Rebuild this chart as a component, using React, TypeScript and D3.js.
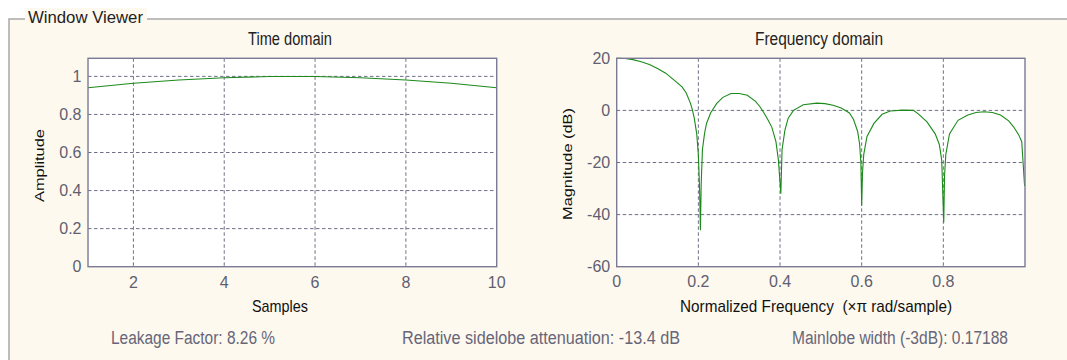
import React from "react";
import * as d3 from "d3";

// Time domain window samples
const samples = [1, 2, 3, 4, 5, 6, 7, 8, 9, 10];
const amplitude = [0.94, 0.964, 0.981, 0.993, 0.999, 0.999, 0.993, 0.981, 0.964, 0.94];

// Frequency domain (normalized frequency, magnitude dB)
const freq = [
  0, 0.02, 0.04, 0.06, 0.08, 0.1, 0.12, 0.14, 0.16, 0.17, 0.18, 0.185, 0.19, 0.196, 0.2, 0.203, 0.205,
  0.207, 0.21, 0.215, 0.22, 0.23, 0.245, 0.26, 0.28, 0.3, 0.32, 0.34, 0.35, 0.36, 0.37, 0.38, 0.39, 0.396, 0.402,
  0.405, 0.412, 0.42, 0.433, 0.457, 0.49, 0.51, 0.53, 0.55, 0.57, 0.58, 0.59, 0.595, 0.598, 0.6,
  0.602, 0.605, 0.613, 0.63, 0.65, 0.67, 0.7, 0.727, 0.74, 0.76, 0.78, 0.79, 0.796, 0.801,
  0.803, 0.806, 0.815, 0.836, 0.86, 0.88, 0.9, 0.92, 0.94, 0.96, 0.972, 0.985, 0.992, 0.999,
];
const magDb = [
  20, 19.9, 19.5, 18.7, 17.6, 16.1, 14.3, 11.7, 9, 6.8, 3, 0.5, -3, -9, -17, -30, -46,
  -28, -15, -9, -5, -1, 2.7, 5, 6.5, 6.5, 5.8, 3.5, 1.6, -0.8, -3.5, -6.5, -12, -19, -32,
  -15, -7.6, -3, 0, 2.2, 2.8, 2.6, 2, 0.9, -1, -3.5, -8, -13, -20, -36.5,
  -24, -17, -10, -5, -1.5, -0.2, 0.1, 0, -1.5, -4.4, -9, -13, -19, -43,
  -25, -17, -9, -3.8, -1.8, -0.8, -0.5, -0.8, -1.8, -4, -6.3, -9.5, -12, -29,
];

const timeXTicks = [2, 4, 6, 8, 10];
const timeYTicks = [0, 0.2, 0.4, 0.6, 0.8, 1];
const freqXTicks = [0, 0.2, 0.4, 0.6, 0.8];
const freqYTicks = [-60, -40, -20, 0, 20];

const FONT = "'Liberation Sans', Arial, sans-serif";
const AXIS = "#7a7a96";
const GRID = "#6f6f88";
const TICKTXT = "#5f5f72";
const LINE = "#1b8a1b";

const top = 58.3;
const bottom = 266.7;

function Label(props: any) {
  const { x, y, len, size, fill, children } = props;
  return (
    <text
      x={x}
      y={y}
      fontSize={size}
      fill={fill}
      fontFamily={FONT}
      textLength={len}
      lengthAdjust="spacingAndGlyphs"
      style={{ whiteSpace: "pre" }}
    >
      {children}
    </text>
  );
}

function Panel(props: any) {
  const { x, y, xTicks, yTicks, xData, yData, xTickY, yLabel, yLabelX, yLabelY, yLabelLen } = props;
  const [l, r] = x.range();
  const line = d3
    .line<number>()
    .x((_, i) => x(xData[i]))
    .y((d) => y(d));
  return (
    <g>
      <rect x={l} y={top} width={r - l} height={bottom - top} fill="#ffffff" />
      {xTicks.map((t: number) =>
        x(t) > l + 1 && x(t) < r - 1 ? (
          <line key={"gx" + t} x1={x(t)} x2={x(t)} y1={top} y2={bottom} stroke={GRID} strokeDasharray="3.5 2.5" strokeWidth={1} />
        ) : null
      )}
      {yTicks.map((t: number) =>
        y(t) > top + 1 && y(t) < bottom - 1 ? (
          <line key={"gy" + t} x1={l} x2={r} y1={y(t)} y2={y(t)} stroke={GRID} strokeDasharray="3.5 2.5" strokeWidth={1} />
        ) : null
      )}
      <path d={line(yData) || ""} fill="none" stroke={LINE} strokeWidth={1.1} />
      <rect x={l} y={top} width={r - l} height={bottom - top} fill="none" stroke={AXIS} strokeWidth={1.4} />
      {xTicks.map((t: number) => (
        <text key={"tx" + t} x={x(t)} y={xTickY} textAnchor="middle" fontSize={16} fill={TICKTXT} fontFamily={FONT}>
          {String(t)}
        </text>
      ))}
      {yTicks.map((t: number) => (
        <text key={"ty" + t} x={l - 6.5} y={y(t) + 5.7} textAnchor="end" fontSize={16} fill={TICKTXT} fontFamily={FONT}>
          {String(t)}
        </text>
      ))}
      <text
        transform={`translate(${yLabelX},${yLabelY}) rotate(-90)`}
        x={-yLabelLen / 2}
        y={0}
        fontSize={13}
        fill="#111"
        fontFamily={FONT}
        textLength={yLabelLen}
        lengthAdjust="spacingAndGlyphs"
      >
        {yLabel}
      </text>
    </g>
  );
}

export default function App() {
  const xt = d3.scaleLinear().domain([1, 10]).range([88, 496.7]);
  const yt = d3.scaleLinear().domain([0, 1.095]).range([bottom, top]);
  const xf = d3.scaleLinear().domain([0, 1]).range([616.7, 1025]);
  const yf = d3.scaleLinear().domain([-60, 20]).range([bottom, top]);
  return (
    <svg width={1067} height={360} style={{ position: "absolute", left: 0, top: 0, display: "block" }}>
      <rect x={0} y={0} width={1067} height={360} fill="#ffffff" />
      <rect x={9} y={19} width={1070} height={360} fill="#fef9ee" stroke="#a8a8a8" strokeWidth={1.5} />
      <rect x={25} y={8} width={122} height={20} fill="#fef9ee" />
      <Label x={28} y={23.3} len={115} size={16} fill="#222">
        Window Viewer
      </Label>

      <Panel
        x={xt}
        y={yt}
        xTicks={timeXTicks}
        yTicks={timeYTicks}
        xData={samples}
        yData={amplitude}
        xTickY={288}
        yLabel="Amplitude"
        yLabelX={44.3}
        yLabelY={165.5}
        yLabelLen={73}
      />
      <Panel
        x={xf}
        y={yf}
        xTicks={freqXTicks}
        yTicks={freqYTicks}
        xData={freq}
        yData={magDb}
        xTickY={287.3}
        yLabel="Magnitude (dB)"
        yLabelX={571.5}
        yLabelY={164}
        yLabelLen={112}
      />

      <Label x={248} y={44.5} len={84} size={18} fill="#222">
        Time domain
      </Label>
      <Label x={755} y={44.5} len={128} size={18} fill="#222">
        Frequency domain
      </Label>
      <Label x={252} y={311.5} len={56} size={17} fill="#111">
        Samples
      </Label>
      <Label x={680} y={311.5} len={272} size={17} fill="#111">
        {"Normalized Frequency  (\u00d7\u03c0 rad/sample)"}
      </Label>

      <Label x={111} y={344} len={164} size={18} fill="#66667a">
        Leakage Factor: 8.26 %
      </Label>
      <Label x={402} y={344} len={278} size={18} fill="#66667a">
        Relative sidelobe attenuation: -13.4 dB
      </Label>
      <Label x={792} y={344} len={216} size={18} fill="#66667a">
        Mainlobe width (-3dB): 0.17188
      </Label>
    </svg>
  );
}
